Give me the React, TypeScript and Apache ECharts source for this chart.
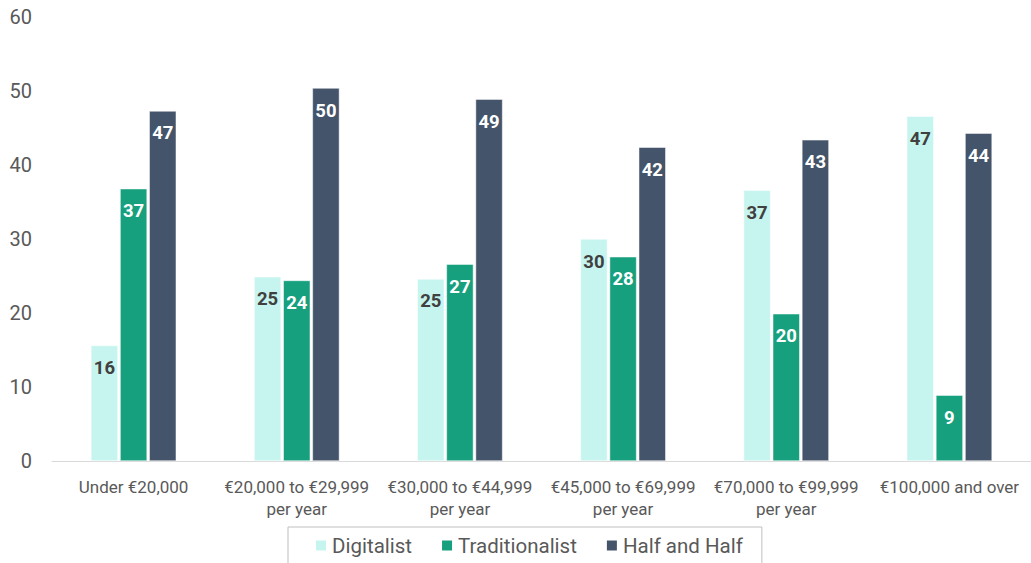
import React, { useEffect, useRef } from "react";
import * as echarts from "echarts";

const categories = [
  "Under €20,000",
  "€20,000 to €29,999\nper year",
  "€30,000 to €44,999\nper year",
  "€45,000 to €69,999\nper year",
  "€70,000 to €99,999\nper year",
  "€100,000 and over",
];
const digitalist = [15.6, 24.9, 24.6, 30.0, 36.6, 46.6];
const traditionalist = [36.8, 24.4, 26.6, 27.6, 19.9, 8.9];
const halfAndHalf = [47.3, 50.4, 48.9, 42.4, 43.4, 44.3];
const seriesNames = ["Digitalist", "Traditionalist", "Half and Half"];
const colors = ["#C6F5EF", "#17A07E", "#44546A"];
const labelColors = ["#404040", "#FFFFFF", "#FFFFFF"];

const FONT = "Roboto, 'Noto Sans', sans-serif";

export default function App() {
  const ref = useRef<HTMLDivElement>(null);
  useEffect(() => {
    if (!ref.current) return;
    const chart = echarts.init(ref.current, undefined, { renderer: "svg" });
    const data = [digitalist, traditionalist, halfAndHalf];
    chart.setOption({
      animation: false,
      textStyle: { fontFamily: FONT },
      grid: { left: 52, right: -2, top: 17, bottom: 102, containLabel: false },
      legend: {
        data: seriesNames,
        left: 288,
        top: 527,
        padding: [8, 19, 16, 26],
        borderColor: "#BFBFBF",
        borderWidth: 1,
        itemWidth: 12,
        itemHeight: 12,
        itemGap: 28,
        icon: "rect",
        textStyle: { fontSize: 20.5, color: "#595959", fontFamily: FONT },
      },
      xAxis: {
        type: "category",
        data: categories,
        axisLine: { lineStyle: { color: "#D9D9D9", width: 1 } },
        axisTick: { show: false },
        axisLabel: {
          interval: 0,
          fontSize: 17,
          color: "#595959",
          lineHeight: 22,
          margin: 15,
          fontFamily: FONT,
        },
      },
      yAxis: {
        type: "value",
        min: 0,
        max: 60,
        interval: 10,
        axisLine: { show: false },
        axisTick: { show: false },
        splitLine: { show: false },
        axisLabel: { fontSize: 20, color: "#595959", margin: 20, fontFamily: FONT },
      },
      series: seriesNames.map((name, i) => ({
        name,
        type: "bar",
        data: data[i],
        barWidth: 27,
        barGap: "8%",
        itemStyle: { color: colors[i], borderColor: "#FFFFFF", borderWidth: 0.5 },
        label: {
          show: true,
          position: "insideTop",
          distance: 13,
          fontSize: 18.5,
          fontWeight: "bold",
          color: labelColors[i],
          fontFamily: FONT,
          formatter: (p: any) => String(Math.round(p.value)),
        },
      })),
    });
    return () => chart.dispose();
  }, []);
  return (
    <div
      ref={ref}
      style={{ position: "absolute", left: 0, top: 0, width: 1031, height: 563, background: "#fff" }}
    />
  );
}
